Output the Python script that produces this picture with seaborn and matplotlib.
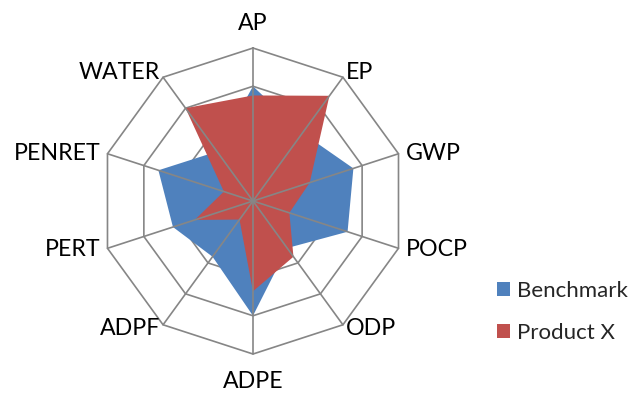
import numpy as np
import matplotlib
matplotlib.use("Agg")
import matplotlib.pyplot as plt
from matplotlib.patches import Patch
import seaborn as sns

# Impact categories and normalised scores
categories = ["AP", "EP", "GWP", "POCP", "ODP", "ADPE", "ADPF", "PERT", "PENRET", "WATER"]
benchmark = [0.75, 0.55, 0.69, 0.65, 0.38, 0.75, 0.45, 0.55, 0.65, 0.40]
product_x = [0.69, 0.85, 0.39, 0.25, 0.45, 0.59, 0.15, 0.40, 0.20, 0.75]
series_names = ["Benchmark", "Product X"]
ring_levels = [0.25, 0.5, 0.75, 1.0]

sns.set_theme(style="white")
plt.rcParams["font.family"] = ["Lato", "DejaVu Sans"]

colors = ["#4F81BD", "#C0504D"]
grid_color = "#868686"

n = len(categories)
theta = np.linspace(0, 2 * np.pi, n, endpoint=False)
theta_closed = np.append(theta, theta[0])

fig = plt.figure(figsize=(6.32, 3.93), dpi=100)
ax = fig.add_axes([0.1582, 0.0992, 0.4842, 0.7786], projection="polar")
ax.set_theta_zero_location("N")
ax.set_theta_direction(-1)
ax.set_ylim(0, 1)
ax.grid(False)
ax.spines["polar"].set_visible(False)
ax.set_xticks([])
ax.set_yticks([])
ax.set_facecolor("white")

# Polygonal rings (behind the filled areas)
for lvl in ring_levels:
    ax.plot(theta_closed, [lvl] * (n + 1), color=grid_color, lw=1.2, zorder=1,
            clip_on=False)

# Filled series
for vals, col, name in zip([benchmark, product_x], colors, series_names):
    v = np.append(vals, vals[0])
    ax.fill(theta_closed, v, color=col, alpha=1.0, lw=0, zorder=2, label=name)

# Spokes drawn over the fills
for t in theta:
    ax.plot([t, t], [0, 1], color=grid_color, lw=1.2, zorder=3, clip_on=False)

# Category labels around the outer ring
label_offsets = {
    "AP": (0, 27, "center"),
    "EP": (3, 7, "left"),
    "GWP": (7, 2, "left"),
    "POCP": (7, 1, "left"),
    "ODP": (3, -2, "left"),
    "ADPE": (0, -25, "center"),
    "ADPF": (-3, -2, "right"),
    "PERT": (-7, 1, "right"),
    "PENRET": (-7, 2, "right"),
    "WATER": (-3, 7, "right"),
}
for t, cat in zip(theta, categories):
    dx, dy, ha = label_offsets[cat]
    ax.annotate(cat, xy=(t, 1.0), xytext=(dx, dy), textcoords="offset pixels",
                ha=ha, va="center_baseline", fontsize=16.7, color="black",
                annotation_clip=False)

handles = [Patch(facecolor=c, edgecolor="none") for c in colors]
fig.legend(handles, series_names, loc="upper left", bbox_to_anchor=(0.786, 0.285),
           frameon=False, fontsize=16, handlelength=0.6, handleheight=0.6,
           handletextpad=0.32, labelspacing=0.98, borderpad=0, borderaxespad=0)

fig.savefig("out.png", dpi=100, facecolor="white")
